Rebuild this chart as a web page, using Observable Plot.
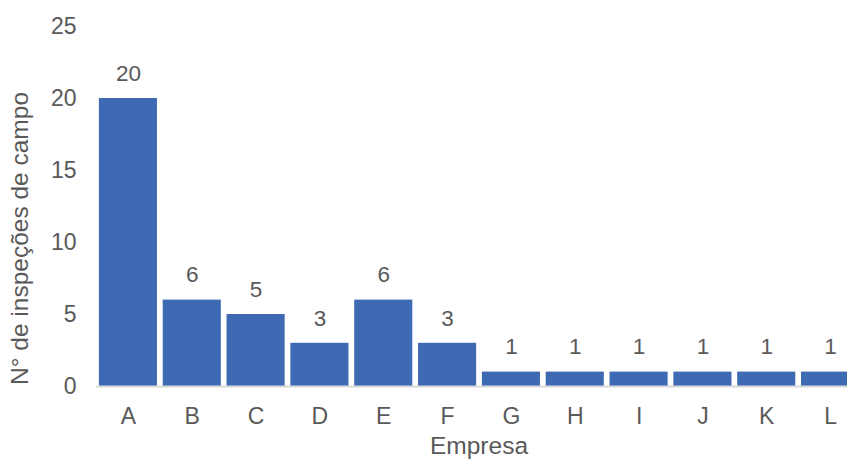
<!DOCTYPE html>
<html>
<head>
<meta charset="utf-8">
<script src="https://cdn.jsdelivr.net/npm/d3@7"></script>
<script src="https://cdn.jsdelivr.net/npm/@observablehq/plot@0.6"></script>
<style>
  body { margin: 0; background: #fff; }
  #chart svg { display: block; }
</style>
</head>
<body>
<div id="chart"></div>
<script>
// Field inspections per company
const empresas = ["A", "B", "C", "D", "E", "F", "G", "H", "I", "J", "K", "L"];
const inspecoes = [20, 6, 5, 3, 6, 3, 1, 1, 1, 1, 1, 1];
const yTicks = [0, 5, 10, 15, 20, 25];

const data = empresas.map((empresa, i) => ({empresa, valor: inspecoes[i]}));

const grey = "#595959";
const blue = "#3d6ab3";

const chart = Plot.plot({
  width: 847,
  height: 459,
  marginTop: 26,
  marginBottom: 73,
  marginLeft: 96,
  marginRight: 0,
  style: {fontFamily: "'Liberation Sans', Arial, sans-serif", fontSize: "22px", color: grey, background: "#fff"},
  x: {domain: empresas, range: [96, 862], paddingInner: 0.09, paddingOuter: 0.045, round: false},
  y: {domain: [0, 25]},
  marks: [
    Plot.barY(data, {x: "empresa", y: "valor", fill: blue}),
    Plot.ruleY([0], {stroke: "#d9d9d9", strokeWidth: 2}),
    Plot.text(data, {x: "empresa", y: "valor", text: d => String(d.valor), dy: -25, fill: grey, fontSize: 22.5}),
    Plot.axisY({ticks: yTicks, tickSize: 0, tickPadding: 20, label: null, fill: grey, fontSize: 23}),
    Plot.axisX({tickSize: 0, tickPadding: 21, label: null, fill: grey, fontSize: 23}),
    Plot.text(["Empresa"], {frameAnchor: "bottom", dx: 7, dy: 67, fill: grey, fontSize: 24.5}),
    Plot.text(["N° de inspeções de campo"], {frameAnchor: "left", textAnchor: "middle", rotate: -90, dx: -76, dy: 32, fill: grey, fontSize: 24.5})
  ]
});

document.getElementById("chart").append(chart);
</script>
</body>
</html>
